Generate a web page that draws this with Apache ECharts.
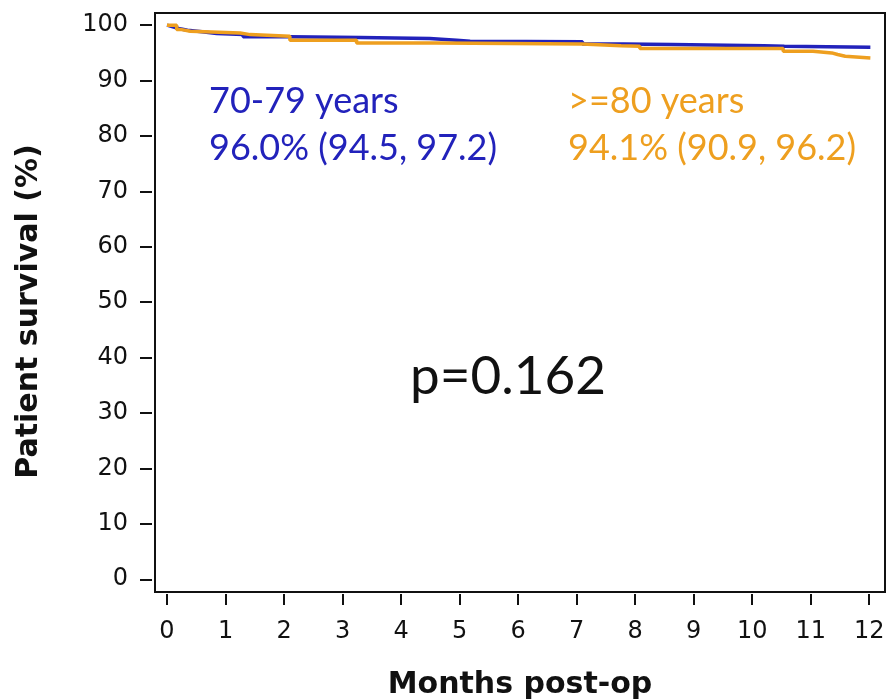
<!DOCTYPE html>
<html>
<head>
<meta charset="utf-8">
<script src="https://cdn.jsdelivr.net/npm/echarts@6/dist/echarts.min.js"></script>
<style>html,body{margin:0;padding:0;background:#fff}#c{width:888px;height:700px}</style>
</head>
<body>
<div id="c"></div>
<script>
// Kaplan-Meier data (months, survival %)
const timesYoung = [0, 0.02, 0.1, 0.2, 0.35, 0.6, 0.85, 1.3, 2.1, 3.3, 4.49, 4.95, 5.18, 7.1, 7.8, 8.63, 10.2, 10.55, 12.02];
const survYoung  = [100, 99.7, 99.4, 99.1, 98.8, 98.5, 98.3, 97.9, 97.8, 97.6, 97.3, 97.1, 97.0, 96.6, 96.5, 96.3, 96.2, 96.0, 96.0];
const timesOld   = [0, 0.165, 0.25, 0.4, 1.25, 1.42, 2.1, 3.24, 4.6, 7.09, 7.76, 8.08, 10.53, 11.04, 11.36, 11.46, 11.59, 12.02];
const survOld    = [100, 99.2, 98.9, 98.6, 98.3, 98.0, 97.3, 96.8, 96.6, 96.3, 96.2, 95.8, 95.3, 95.0, 94.7, 94.4, 94.1, 94.1];
const xTicks = [0,1,2,3,4,5,6,7,8,9,10,11,12];
const yTicks = [0,10,20,30,40,50,60,70,80,90,100];
const groupNames = ['70-79 years', '>=80 years'];
const groupStats = ['96.0% (94.5, 97.2)', '94.1% (90.9, 96.2)'];
const pText = 'p=0.162';

const BLUE = '#2222BB', ORANGE = '#EE9F1F';
const pair = (t, s) => t.map((v, i) => [v, s[i]]);

const chart = echarts.init(document.getElementById('c'), null, {renderer: 'canvas'});
chart.setOption({
  animation: false,
  grid: {left: 155, top: 13, right: 3, bottom: 108, show: true, borderColor: '#111', borderWidth: 2, backgroundColor: '#fff',
         containLabel: false, outerBoundsMode: 'none'},
  xAxis: {
    type: 'value', min: -0.205, max: 12.27, offset: 2,
    axisLine: {show: false, onZero: false}, splitLine: {show: false},
    axisTick: {show: true, customValues: xTicks, length: 11, lineStyle: {color: '#111', width: 2}},
    axisLabel: {customValues: xTicks, fontFamily: 'DejaVu Sans', fontSize: 24, color: '#111', margin: 26},
    name: 'Months post-op', nameLocation: 'middle', nameGap: 76,
    nameTextStyle: {fontFamily: 'DejaVu Sans', fontWeight: 'bold', fontSize: 30, color: '#111'}
  },
  yAxis: {
    type: 'value', min: -2.3, max: 102.2, offset: 3,
    axisLine: {show: false, onZero: false}, splitLine: {show: false},
    axisTick: {show: true, customValues: yTicks, length: 12, lineStyle: {color: '#111', width: 2}},
    axisLabel: {customValues: yTicks, fontFamily: 'DejaVu Sans', fontSize: 24, color: '#111', margin: 24},
    name: 'Patient survival (%)', nameLocation: 'middle', nameGap: 108, nameRotate: 90,
    nameTextStyle: {fontFamily: 'DejaVu Sans', fontWeight: 'bold', fontSize: 30, color: '#111', padding: [0, 18, 0, 0]}
  },
  series: [
    {type: 'line', name: groupNames[0], step: 'end', showSymbol: false, data: pair(timesYoung, survYoung),
     lineStyle: {color: BLUE, width: 3.5}, itemStyle: {color: BLUE}, z: 2},
    {type: 'line', name: groupNames[1], step: 'end', showSymbol: false, data: pair(timesOld, survOld),
     lineStyle: {color: ORANGE, width: 3.5}, itemStyle: {color: ORANGE}, z: 3}
  ],
  graphic: [
    {type: 'text', left: 209, top: 78, style: {text: groupNames[0] + '\n' + groupStats[0], fill: BLUE, font: '36px Lato', lineHeight: 47}},
    {type: 'text', left: 568, top: 78, style: {text: groupNames[1] + '\n' + groupStats[1], fill: ORANGE, font: '36px Lato', lineHeight: 47}},
    {type: 'text', left: 410, top: 350, style: {text: pText, fill: '#111', font: '53px Lato'}}
  ]
});
</script>
</body>
</html>
